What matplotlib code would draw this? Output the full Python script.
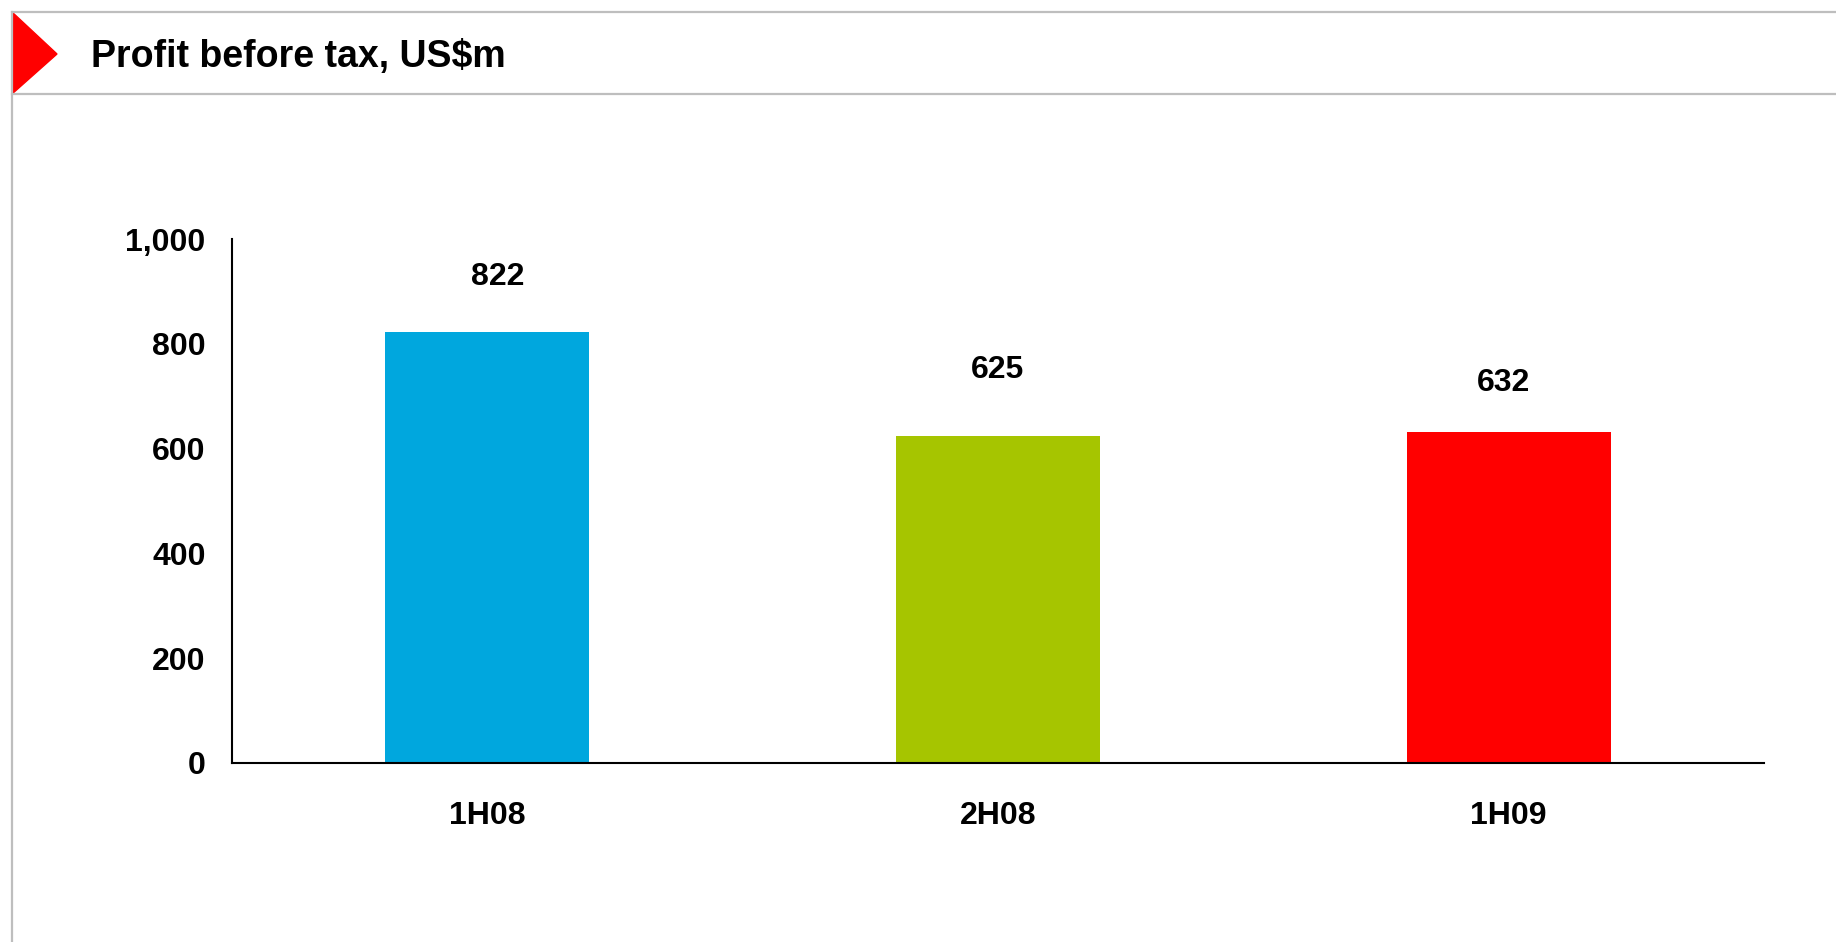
import matplotlib
matplotlib.use("Agg")
import matplotlib.pyplot as plt
from matplotlib.lines import Line2D
from matplotlib.patches import Polygon

# data
periods = ["1H08", "2H08", "1H09"]
profit = [822, 625, 632]
bar_colors = ["#00A7DE", "#A6C500", "#FF0000"]
yticks = [0, 200, 400, 600, 800, 1000]
ytick_labels = ["0", "200", "400", "600", "800", "1,000"]
title = "Profit before tax, US$m"

plt.rcParams["font.family"] = ["Liberation Sans", "DejaVu Sans"]
plt.rcParams["font.weight"] = "bold"

W, H = 1836, 942
fig = plt.figure(figsize=(W / 100, H / 100), dpi=100)

def fx(px):
    return px / W

def fy(py):
    return 1 - py / H

# header frame
grey = "#BEBEBE"
fig.add_artist(Line2D([fx(12), 1], [fy(12), fy(12)], color=grey, lw=1.6, transform=fig.transFigure))
fig.add_artist(Line2D([fx(12), 1], [fy(94), fy(94)], color=grey, lw=1.6, transform=fig.transFigure))
fig.add_artist(Line2D([fx(12), fx(12)], [fy(12), 0], color=grey, lw=1.6, transform=fig.transFigure))
fig.add_artist(Polygon([[fx(12), fy(12)], [fx(57), fy(54)], [fx(12), fy(94)]],
                       closed=True, color="#FF0000", transform=fig.transFigure))
fig.text(fx(91), fy(57), title, fontsize=27, fontweight="bold", va="center", ha="left")

ax = fig.add_axes([fx(232), fy(763), fx(1764) - fx(232), (763 - 239) / H])
x = range(len(periods))
bars = ax.bar(x, profit, width=0.4, color=bar_colors)

ax.set_xlim(-0.5, 2.5)
ax.set_ylim(0, 1000)
ax.set_yticks(yticks)
ax.set_yticklabels(ytick_labels)
ax.set_xticks(list(x))
ax.set_xticklabels(periods)
ax.tick_params(axis="y", length=0, pad=19, labelsize=23)
ax.tick_params(axis="x", length=0, pad=27, labelsize=23)
for lab in ax.get_xticklabels() + ax.get_yticklabels():
    lab.set_fontweight("bold")

for s in ["top", "right"]:
    ax.spines[s].set_visible(False)
ax.spines["left"].set_linewidth(1.5)
ax.spines["bottom"].set_linewidth(1.5)

# value labels (placed by hand on the original slide, so offsets differ a bit)
offsets = [(7.5, 39.5), (0, 47), (-3.5, 35.5)]
for b, v, off in zip(bars, profit, offsets):
    ax.annotate(str(v), (b.get_x() + b.get_width() / 2, v), xytext=off,
                textcoords="offset points", ha="center", va="center",
                fontsize=23, fontweight="bold")

fig.savefig("out.png", dpi=100)
